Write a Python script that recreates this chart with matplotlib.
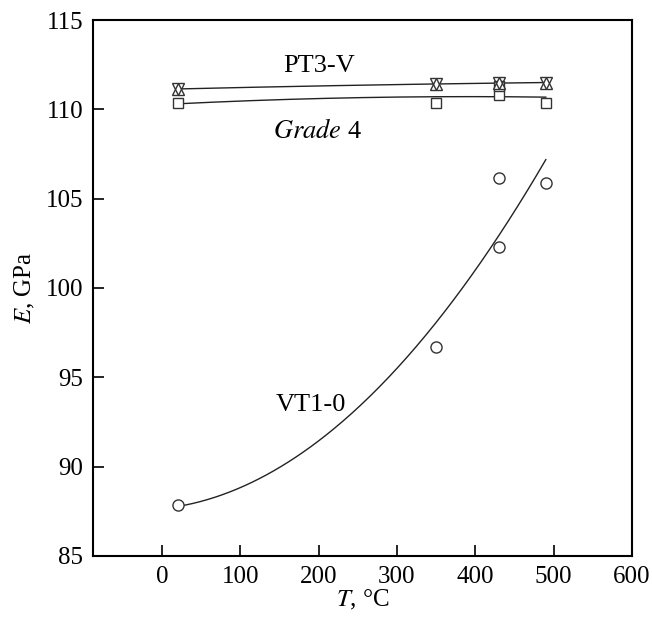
import numpy as np
import matplotlib
matplotlib.use('Agg')
import matplotlib.pyplot as plt

plt.rcParams['font.family'] = ['Liberation Serif', 'DejaVu Serif']
plt.rcParams['mathtext.fontset'] = 'stix'

# --- data ---
T_vt = [20, 350, 430, 430, 490]
E_vt = [87.85, 96.7, 106.15, 102.3, 105.9]

T_pt = [20, 350, 430, 490]
E_pt = [111.14, 111.42, 111.47, 111.5]

T_gr = [20, 350, 430, 430, 490]
E_gr = [110.33, 110.34, 110.8, 111.3, 110.34]

xticks = [0, 100, 200, 300, 400, 500, 600]
yticks = [85, 90, 95, 100, 105, 110, 115]

fig = plt.figure(figsize=(6.52, 6.17), dpi=100)
ax = fig.add_axes([93/652, 1 - 556/617, (632-93)/652, (556-20)/617])

# quadratic trend lines through each data set
for T, E in [(T_vt, E_vt), (T_pt, E_pt), (T_gr, E_gr)]:
    c = np.polyfit(T, E, 2)
    tt = np.linspace(min(T), max(T), 200)
    ax.plot(tt, np.polyval(c, tt), color='#222222', lw=1.0, zorder=1)

mk = dict(ls='none', mfc='white', mec='#333333', mew=1.0, zorder=3)
ax.plot(T_vt, E_vt, marker='o', ms=8, **mk)
ax.plot(T_gr, E_gr, marker='s', ms=7, **mk)
ax.plot(T_pt, E_pt, marker='^', ms=8, **mk)
ax.plot(T_pt, E_pt, marker='v', ms=8, ls='none', mfc='none', mec='#333333', mew=1.0, zorder=4)

ax.text(200, 112.4, 'PT3-V', fontsize=19, ha='center', va='center')
ax.text(199, 108.8, r'$\mathit{Grade}$ 4', fontsize=19, ha='center', va='center')
ax.text(190, 93.45, 'VT1-0', fontsize=19, ha='center', va='center')

ax.set_xlim(-88, 600)
ax.set_ylim(85, 115)
ax.set_xticks(xticks)
ax.set_yticks(yticks)
ax.tick_params(direction='in', length=8, width=1.2, labelsize=18, pad=7)
for s in ax.spines.values():
    s.set_linewidth(1.5)

ax.set_xlabel(r'$\mathit{T}$, °C', fontsize=18, labelpad=0)
ax.set_ylabel(r'$\mathit{E}$, GPa', fontsize=18, labelpad=6)

fig.savefig('out.png', dpi=100)
